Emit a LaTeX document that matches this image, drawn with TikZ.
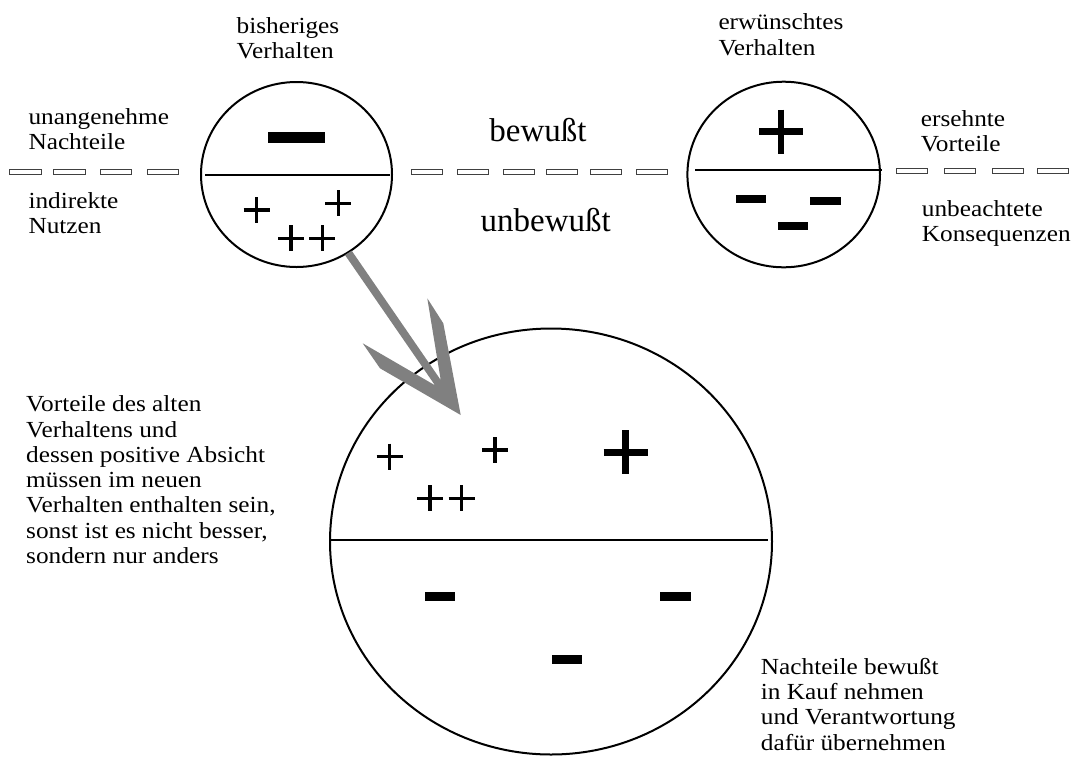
\documentclass[tikz,border=0pt]{standalone}
\usepackage{fontspec}
\setmainfont{Liberation Serif}
\newfontfamily\lblfont[FakeStretch=1.1]{Liberation Serif}
\definecolor{arrowgray}{RGB}{128,128,128}
\tikzset{
  lbl/.style={font=\lblfont\fontsize{23}{25.3}\selectfont, inner sep=0pt, anchor=base west, align=left},
  bigtxt/.style={font=\fontsize{33}{36}\selectfont, inner sep=0pt, anchor=base},
  ring/.style={line width=2pt},
  divider/.style={line width=2.5pt},
  dashbox/.style={draw=black!75, fill=white, line width=0.9pt},
  pl/.style={line width=3.5pt},
  bigpl/.style={line width=6.5pt},
}
\newcommand\pmark[3]{\draw[#3] ({#1-13},#2) -- ({#1+13},#2) (#1,{#2-13}) -- (#1,{#2+13});}
\newcommand\bigpmark[2]{\draw[bigpl] ({#1-22},#2) -- ({#1+22},#2) (#1,{#2-22}) -- (#1,{#2+22});}
\begin{document}
\begin{tikzpicture}[x=1pt,y=-1pt]
\useasboundingbox (0,0) rectangle (1076,756);
% circles
\coordinate (c1) at (296.5,174.5);
\coordinate (c2) at (783.7,174.5);
\coordinate (c3) at (551,541.5);
\draw[ring] (c1) ellipse [x radius=95.5pt, y radius=92.5pt];
\draw[ring] (c2) ellipse [x radius=96.3pt, y radius=92.8pt];
\draw[ring] (c3) ellipse [x radius=221pt, y radius=213pt];
% dividers
\draw[divider] (205,175) -- (390,175);
\draw[divider] (695,170) -- (881.5,170);
\draw[divider] (330,540) -- (768,540);
% dashes
\foreach \a in {9.5,53.5,100,147}{\draw[dashbox] (\a,169.5) rectangle ({\a+31.5},174);}
\foreach \a in {411.5,457.5,503.5,546,590.5,636.5}{\draw[dashbox] (\a,169.5) rectangle ({\a+31},174);}
\foreach \a in {896,944.5,992.5,1037.5}{\draw[dashbox] (\a,168.5) rectangle ({\a+31},173);}
% circle 1 marks
\fill (268,132) rectangle (325,143);
\pmark{256.7}{210}{pl}
\pmark{338.3}{203.3}{pl}
\pmark{291}{238.3}{pl}
\pmark{322.3}{238.3}{pl}
% circle 2 marks
\bigpmark{781}{131.7}
\fill (736,195) rectangle (766,202.7);
\fill (810,196.7) rectangle (841,205);
\fill (777.7,221.7) rectangle (808.3,230);
% big circle marks
\pmark{389.7}{456.7}{pl}
\pmark{495}{450}{pl}
\pmark{430}{498.3}{pl}
\pmark{461.7}{498.3}{pl}
\bigpmark{625.7}{452.3}
\fill (425,592.3) rectangle (455,600.7);
\fill (660,592) rectangle (690.7,600.7);
\fill (551.7,655) rectangle (582.3,664);
% arrow
\fill[arrowgray] (345,255) -- (351.7,250.7) -- (440.7,380) -- (427.3,298.3) -- (443.3,323.3) -- (460.7,415) -- (380,368.3) -- (362.7,343.3) -- (435,385.3) -- cycle;
% texts (anchor at baseline of last line)
\node[lbl] (t1) at (236.5,58.3) {bisheriges\\Verhalten};
\node[lbl] (t2) at (718.3,55) {erwünschtes\\Verhalten};
\node[lbl] (t3) at (28.3,149.5) {unangenehme\\Nachteile};
\node[lbl] (t4) at (28.3,233.3) {indirekte\\Nutzen};
\node[lbl] (t5) at (920.7,151.7) {ersehnte\\Vorteile};
\node[lbl] (t6) at (921.7,241.7) {unbeachtete\\Konsequenzen};
\node[bigtxt] (t7) at (538,141.7) {bewußt};
\node[bigtxt] (t8) at (545.8,231.7) {unbewußt};
\node[lbl] (t9) at (26,563.5) {Vorteile des alten\\Verhaltens und\\dessen positive Absicht\\müssen im neuen\\Verhalten enthalten sein,\\sonst ist es nicht besser,\\sondern nur anders};
\node[lbl] (t10) at (760.7,750) {Nachteile bewußt\\in Kauf nehmen\\und Verantwortung\\dafür übernehmen};
\end{tikzpicture}
\end{document}
